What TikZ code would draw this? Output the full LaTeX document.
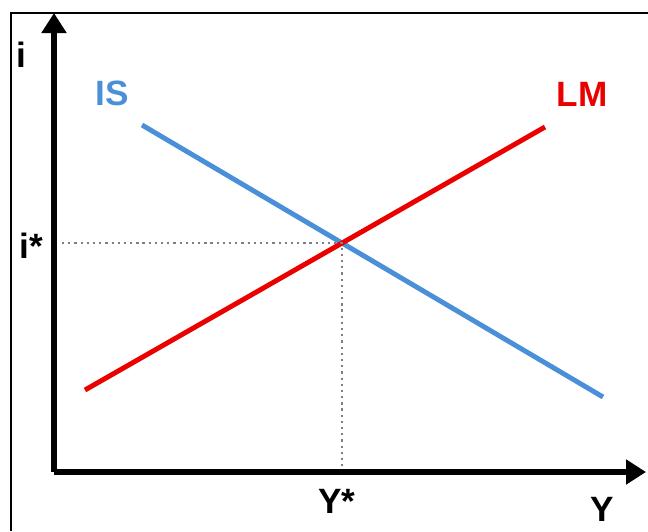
\documentclass[tikz,border=0pt]{standalone}
\usepackage{fontspec}
\setmainfont{Liberation Sans}
\usetikzlibrary{arrows.meta}
\definecolor{isblue}{RGB}{74,144,217}
\definecolor{lmred}{RGB}{235,0,0}
\begin{document}
\begin{tikzpicture}[x=0.025cm, y=-0.025cm, >={Triangle[length=0.5cm, width=0.6cm]},
      lbl/.style={font=\fontsize{25}{30}\selectfont\bfseries, inner sep=0pt},
      axis/.style={line width=4.3pt},
      curve/.style={line width=3.5pt},
      guide/.style={dash pattern=on 1.6pt off 2.8pt, line width=1.7pt, gray}]
    \useasboundingbox (0,0) rectangle (648,531);
    % frame (cut at the right and bottom)
    \draw[line width=1.8pt] (11,531) -- (11,13) -- (648,13);
    % axes
    \coordinate (O) at (54,472);
    \coordinate (ytop) at (54,13);
    \coordinate (xend) at (646,472);
    \draw[axis, ->] (O) -- (ytop);
    \draw[axis, ->] (O) -- (xend);
    % IS and LM curves
    \coordinate (is1) at (142,125);
    \coordinate (is2) at (603,397);
    \coordinate (lm1) at (85,390);
    \coordinate (lm2) at (545,127);
    \draw[curve, isblue] (is1) -- (is2);
    \draw[curve, lmred] (lm1) -- (lm2);
    % equilibrium guides
    \coordinate (E) at (342,243);
    \coordinate (ieq) at (62,243);
    \coordinate (yeq) at (342,470);
    \draw[guide] (ieq) -- (E) -- (yeq);
    % labels
    \node[lbl] (ilab) at (21,55) {i};
    \node[lbl, text=isblue] (islab) at (112,93) {IS};
    \node[lbl, text=lmred] (lmlab) at (582,94) {LM};
    \node[lbl] (istar) at (31,246) {i*};
    \node[lbl] (ystar) at (337,501) {Y*};
    \node[lbl] (ylab) at (602,509) {Y};
  \end{tikzpicture}
\end{document}
